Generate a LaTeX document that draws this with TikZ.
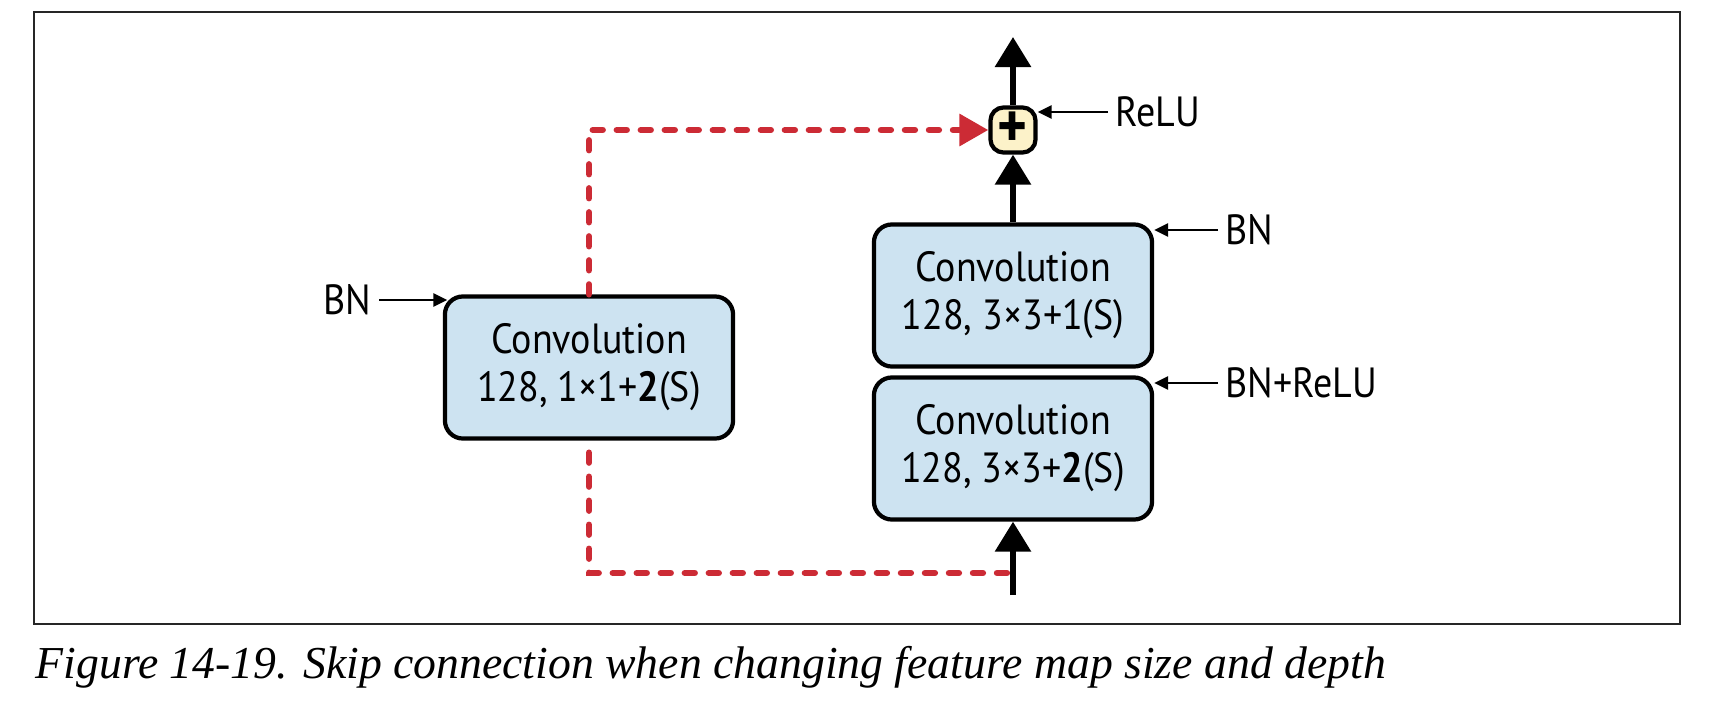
\documentclass[tikz,border=0pt]{standalone}
\usepackage{fontspec}
\usetikzlibrary{arrows.meta,positioning,calc}
\newfontfamily\diagfont[FakeStretch=0.9]{PT Sans}
\newfontfamily\capfont{Liberation Serif}
\definecolor{convblue}{HTML}{CDE3F1}
\definecolor{addyellow}{HTML}{FCF2C9}
\definecolor{skipred}{HTML}{CC2B35}

\begin{document}
\begin{tikzpicture}[x=0.01cm, y=-0.01cm, every node/.style={font=\diagfont\fontsize{12}{13.7}\selectfont}, conv/.style={draw, line width=1.2pt, rounded corners=0.18cm, fill=convblue, align=center, minimum width=2.78cm, minimum height=1.42cm}, add/.style={draw, line width=1.2pt, rounded corners=0.13cm, fill=addyellow, minimum size=0.45cm, inner sep=0pt}, lbl/.style={inner sep=2pt}, flow/.style={-{Triangle[length=0.3cm, width=0.35cm]}, line width=1.7pt}, side/.style={-{Triangle[length=0.14cm, width=0.13cm]}, line width=0.8pt}, skip/.style={draw=skipred, line width=1.8pt, dash pattern=on 0.1cm off 0.14cm, line cap=round}, skiparr/.style={skip, -{Triangle[length=0.29cm, width=0.31cm]}}]
\useasboundingbox (0,0) rectangle (1720,706);
\draw[line width=0.6pt, black!85] (34,12) rectangle (1680,624);
% blocks
\node[conv, minimum width=2.88cm] (C1) at (589,367.5) {Convolution\\128, 1×1+\textbf{2}(S)};
\node[conv] (C2) at (1013,295.5) {Convolution\\128, 3×3+1(S)};
\node[conv] (C3) at (1013,448.5) {Convolution\\128, 3×3+\textbf{2}(S)};
\node[add] (P) at (1013,130) {\fontsize{18}{18}\selectfont\bfseries +};
\coordinate (in) at (1013,595);
\coordinate (out) at (1013,37);
\coordinate (join) at (1013,573);
% labels
\node[lbl, anchor=east] (bnA) at (379,300) {BN};
\node[lbl, anchor=west] (bnB) at (1218,230) {BN};
\node[lbl, anchor=west] (bnC) at (1218,383) {BN+ReLU};
\node[lbl, anchor=west] (relu) at (1108,112) {ReLU};
% skip connection
\draw[skip, shorten <=0.12cm] (C1.south) |- (join);
\draw[skiparr] (C1.north) |- (P.west);
% main path
\draw[flow] (in) -- (C3.south);
\draw[flow] (C2.north) -- (P.south);
\draw[flow] (P.north) -- (out);
\draw[side, shorten >=-0.045cm] (bnA.east) -- (bnA.east -| C1.west);
\draw[side] (bnB.west) -- (bnB.west -| C2.east);
\draw[side] (bnC.west) -- (bnC.west -| C3.east);
\draw[side] (relu.west) -- (relu.west -| P.east);
% caption
\node[anchor=base west, inner sep=0pt, font=\capfont\itshape\fontsize{13}{15}\selectfont] (cap) at (35,678) {Figure 14-19. Skip connection when changing feature map size and depth};
\end{tikzpicture}
\end{document}
